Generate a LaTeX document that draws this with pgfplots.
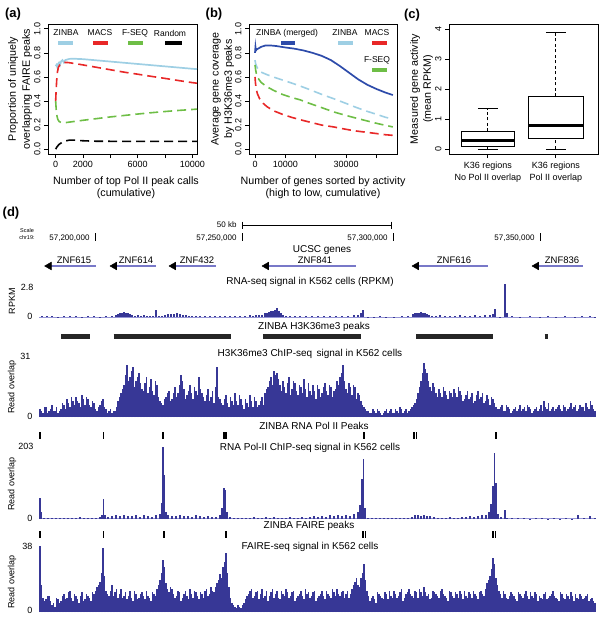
\documentclass[border=0pt]{standalone}
\usepackage{pgfplots}
\pgfplotsset{compat=1.18}
\usepgfplotslibrary{statistics}
\usepackage{fontspec}
\setmainfont{Liberation Sans}
\definecolor{zlb}{RGB}{158,207,228}
\definecolor{zred}{RGB}{232,40,40}
\definecolor{zgreen}{RGB}{110,190,70}
\definecolor{zdb}{RGB}{45,75,170}
\definecolor{trk}{RGB}{55,55,150}
\definecolor{trkl}{RGB}{150,150,215}
\definecolor{gene}{RGB}{120,120,200}
\begin{document}
\begin{tikzpicture}
\path[use as bounding box] (0pt,0pt) rectangle (600pt,-618pt);
\pgfplotsset{
  rstyle/.style={scale only axis, tick align=outside, major tick length=4pt, tick pos=left,
    axis line style={line width=0.7pt}, every tick/.style={black,line width=0.7pt},
    /pgf/number format/assume math mode=true,
    ticklabel style={font=\fontsize{9}{10}\selectfont},
    yticklabel style={rotate=90, anchor=south},
    scaled x ticks=false, clip=true},
  trkstyle/.style={scale only axis, hide axis, xmin=39, xmax=596, ymin=0, width=557pt, clip=true},
}
\def\lab{\fontsize{10.7}{12}\selectfont}
\def\tit{\fontsize{10}{11}\selectfont}
% ---------------- (a)
\begin{axis}[rstyle, at={(48pt,-154pt)}, anchor=south west, width=149pt, height=130pt,
  xmin=-560, xmax=10340, ymin=-0.04, ymax=1.04,
  xtick={0,2000,4000,6000,8000,10000}, xticklabels={0,2000,,6000,,10000},
  ytick={0,0.2,0.4,0.6,0.8,1.0}, yticklabels={0.0,0.2,0.4,0.6,0.8,1.0}]
\addplot[zlb, line width=1.7pt] coordinates {(0,0.69)(60,0.70)(120,0.68)(180,0.71)(250,0.72)(320,0.70)(400,0.73)(500,0.74)(600,0.72)(700,0.74)(850,0.745)(1000,0.75)(1300,0.752)(1600,0.75)(2000,0.748)(3000,0.738)(4000,0.728)(5000,0.718)(6000,0.708)(7000,0.698)(8000,0.688)(9000,0.678)(10000,0.668)(10340,0.665)};
\addplot[zred, line width=1.6pt, dash pattern=on 9pt off 5pt] coordinates {(0,0.40)(40,0.50)(80,0.58)(130,0.64)(200,0.68)(300,0.70)(450,0.715)(650,0.72)(900,0.72)(1200,0.715)(2000,0.70)(3000,0.68)(4000,0.66)(5000,0.64)(6000,0.623)(7000,0.605)(8000,0.588)(9000,0.57)(10000,0.553)(10340,0.548)};
\addplot[zgreen, line width=1.6pt, dash pattern=on 9pt off 5pt] coordinates {(0,0.40)(40,0.33)(90,0.28)(150,0.25)(250,0.23)(400,0.222)(600,0.218)(800,0.222)(1200,0.228)(2000,0.24)(3000,0.254)(4000,0.268)(5000,0.28)(6000,0.292)(7000,0.303)(8000,0.313)(9000,0.322)(10000,0.33)(10340,0.333)};
\addplot[black, line width=1.6pt, dash pattern=on 9pt off 5pt] coordinates {(0,0.0)(100,0.02)(250,0.04)(450,0.055)(700,0.068)(1000,0.075)(1400,0.075)(2000,0.07)(3000,0.066)(5000,0.065)(7000,0.065)(10340,0.065)};
\end{axis}
% ---------------- (b)
\begin{axis}[rstyle, at={(249pt,-154pt)}, anchor=south west, width=148pt, height=130pt,
  xmin=-1980, xmax=46770, ymin=-0.04, ymax=1.04,
  xtick={0,10000,20000,30000,40000}, xticklabels={0,10000,,30000,},
  ytick={0,0.2,0.4,0.6,0.8,1.0}, yticklabels={0.0,0.2,0.4,0.6,0.8,1.0}]
\addplot[zdb, line width=1.7pt] coordinates {(0,0.80)(150,0.85)(300,0.82)(600,0.83)(1000,0.835)(2000,0.85)(3500,0.862)(5000,0.862)(7000,0.857)(10000,0.845)(13000,0.835)(16000,0.82)(19000,0.80)(22000,0.775)(25000,0.74)(28000,0.69)(31000,0.635)(34000,0.58)(37000,0.535)(40000,0.50)(43000,0.47)(45400,0.45)};
\addplot[zlb, line width=1.6pt, dash pattern=on 9pt off 5pt] coordinates {(0,0.74)(200,0.71)(500,0.69)(1000,0.665)(2000,0.64)(3850,0.62)(6000,0.60)(9000,0.575)(12000,0.55)(14850,0.525)(18000,0.495)(22000,0.455)(25850,0.42)(30000,0.38)(33000,0.35)(36860,0.315)(40000,0.29)(43000,0.265)(45400,0.25)};
\addplot[zgreen, line width=1.6pt, dash pattern=on 9pt off 5pt] coordinates {(0,0.70)(200,0.66)(500,0.62)(1000,0.59)(2000,0.555)(3850,0.52)(6000,0.49)(9000,0.455)(12000,0.43)(14850,0.41)(18000,0.38)(22000,0.345)(25850,0.31)(30000,0.28)(33000,0.26)(36860,0.235)(40000,0.215)(43000,0.198)(45400,0.185)};
\addplot[zred, line width=1.6pt, dash pattern=on 9pt off 5pt] coordinates {(0,0.60)(150,0.55)(400,0.50)(800,0.46)(1500,0.42)(2500,0.385)(3850,0.355)(6000,0.32)(9000,0.29)(12000,0.265)(14850,0.245)(18000,0.225)(22000,0.20)(25850,0.185)(30000,0.165)(33000,0.152)(36860,0.14)(40000,0.13)(43000,0.12)(45400,0.115)};
\end{axis}
% ---------------- (c)
\begin{axis}[rstyle, at={(449pt,-154pt)}, anchor=south west, width=149pt, height=130pt,
  xmin=0.43, xmax=2.62, ymin=-0.167, ymax=4.167,
  xtick={1,2}, xticklabels={{K36 regions\\No Pol II overlap},{K36 regions\\Pol II overlap}},
  xticklabel style={align=center, font=\fontsize{9}{12}\selectfont},
  ytick={0,1,2,3,4}, boxplot/draw direction=y]
\addplot[black, line width=0.7pt, dash pattern=on 3pt off 2.5pt] coordinates {(1,0)(1,0.1)};
\addplot[black, line width=0.7pt, dash pattern=on 3pt off 2.5pt] coordinates {(1,0.59)(1,1.34)};
\addplot[black, line width=0.7pt] coordinates {(0.855,0)(1.145,0)};
\addplot[black, line width=0.7pt] coordinates {(0.855,1.34)(1.145,1.34)};
\addplot[black, line width=0.7pt, dash pattern=on 3pt off 2.5pt] coordinates {(2,0)(2,0.37)};
\addplot[black, line width=0.7pt, dash pattern=on 3pt off 2.5pt] coordinates {(2,1.75)(2,3.88)};
\addplot[black, line width=0.7pt] coordinates {(1.855,0)(2.145,0)};
\addplot[black, line width=0.7pt] coordinates {(1.855,3.88)(2.145,3.88)};
\addplot[black, line width=0.7pt, fill=white, boxplot prepared={draw position=1, lower whisker=0.1, lower quartile=0.1, median=0.27, upper quartile=0.59, upper whisker=0.59, box extend=0.78, whisker extend=0, every median/.style={line width=2.8pt}}] coordinates {};
\addplot[black, line width=0.7pt, fill=white, boxplot prepared={draw position=2, lower whisker=0.37, lower quartile=0.37, median=0.78, upper quartile=1.75, upper whisker=1.75, box extend=0.8, whisker extend=0, every median/.style={line width=2.8pt}}] coordinates {};
\end{axis}
% ---------------- tracks
\begin{axis}[trkstyle, at={(39pt,-317pt)}, anchor=south west, height=33pt, ymax=2.8]
\addplot[trkl, line width=0.6pt] coordinates {(39,0.01)(596,0.01)};
\addplot[trk, ycomb, line width=1.2pt] coordinates {(42,0.06)(47,0.05)(52,0.08)(58,0.04)(64,0.07)(70,0.05)(76,0.06)(82,0.03)(88,0.07)(94,0.05)(100,0.04)(106,0.06)(112,0.05)
(116,0.15)(118,0.25)(120,0.32)(122,0.38)(124,0.42)(126,0.35)(128,0.30)(130,0.22)(132,0.15)(135,0.12)(138,0.18)(141,0.10)(144,0.14)(147,0.08)(150,0.12)(153,0.09)(156,0.6)(159,0.1)
(162,0.08)(165,0.18)(168,0.22)(171,0.28)(174,0.25)(177,0.3)(180,0.22)(183,0.18)(186,0.15)(189,0.12)(192,0.08)(196,0.1)(200,0.06)(205,0.09)(210,0.05)(215,0.08)(220,0.06)(225,0.1)(230,0.07)(235,0.09)(240,0.12)(245,0.1)(250,0.15)(253,0.12)(256,0.18)(259,0.2)(262,0.16)
(265,0.3)(267,0.38)(269,0.45)(271,0.5)(273,0.55)(275,0.62)(277,0.76)(279,0.5)(281,0.35)(283,0.2)(286,0.12)(290,0.08)(295,0.1)(300,0.06)(306,0.12)(312,0.05)(318,0.09)(324,0.06)(330,0.1)(336,0.08)(342,0.12)(348,0.09)(354,0.15)(358,0.2)(361,0.3)(363,0.62)
(368,0.04)(374,0.03)(380,0.05)(386,0.03)(394,0.04)(402,0.06)(408,0.05)
(413,0.22)(415,0.3)(417,0.35)(419,0.38)(421,0.4)(423,0.36)(425,0.3)(427,0.22)(429,0.15)(432,0.12)(436,0.1)(440,0.14)(445,0.08)(450,0.12)(455,0.1)(460,0.14)(465,0.09)(470,0.12)(475,0.15)(480,0.1)(485,0.14)(490,0.18)(493,0.25)(495,0.67)
(500,0.04)(505,2.8)(507,0.35)(512,0.05)(520,0.04)(530,0.06)(540,0.03)(548,0.05)(556,0.04)(565,0.06)(575,0.04)(582,0.07)(590,0.05)(595,0.04)};
\end{axis}
\begin{axis}[trkstyle, at={(39pt,-417pt)}, anchor=south west, height=62pt, ymax=31]
\addplot[trk, ycomb, line width=1.6pt] coordinates {(40,4)(43,2)(46,5)(49,3)(52,6)(55,3)(58,2)(61,4)
(64,6)(67,9)(70,5)(73,8)(76,10)(79,7)(82,11)(85,6)(88,9)(91,5)(94,7)(97,3)(100,6)(103,9)(106,4)(109,3)(112,2)(115,3)
(118,8)(121,12)(124,16)(127,26)(130,20)(133,25)(136,18)(139,22)(142,14)(145,17)(148,12)(151,19)(154,11)(157,16)(160,8)(163,6)
(166,10)(169,13)(172,9)(175,15)(178,12)(181,21)(184,14)(187,11)(190,16)(193,9)(196,13)(199,20)(202,12)(205,8)(208,14)(211,10)(214,7)(217,25)
(220,9)(223,6)(226,11)(229,5)(232,8)(235,12)(238,6)(241,9)(244,4)(247,7)(250,11)(253,5)(256,8)(259,6)(262,10)(265,12)
(268,15)(271,20)(274,23)(277,22)(280,16)(283,18)(286,12)(289,20)(292,14)(295,17)(298,11)(301,15)(304,19)(307,10)(310,13)(313,16)(316,9)(319,14)(322,12)(325,17)(328,11)(331,15)(334,13)(337,18)(340,20)(343,26)(346,14)(349,17)(352,11)(355,15)(358,12)(361,8)(364,5)
(367,3)(370,2)(373,4)(376,2)(379,3)(382,1)(385,3)(388,2)(391,4)(394,2)(397,3)(400,5)(403,2)(406,4)(409,3)(412,5)(415,7)
(418,12)(421,18)(424,27)(427,22)(430,15)(433,17)(436,12)(439,14)(442,10)(445,13)(448,9)(451,12)(454,14)(457,10)(460,13)(463,8)(466,11)(469,9)(472,12)(475,8)(478,13)(481,10)(484,7)(487,11)(490,6)(493,9)(496,5)
(499,4)(502,6)(505,3)(508,5)(511,2)(514,4)(517,3)(520,6)(523,4)(526,3)(529,5)(532,2)(535,4)(538,3)(541,6)(544,8)(547,4)(550,3)(553,5)(556,4)(559,6)(562,3)(565,5)(568,4)(571,7)(574,5)(577,3)(580,6)(583,5)(586,7)(589,4)(592,6)(595,3)};
\addplot[trk, ycomb, line width=1.6pt] coordinates {(41.5,3)(44.5,5)(47.5,2)(50.5,4)(53.5,3)(56.5,5)(59.5,3)(62.5,7)
(65.5,4)(68.5,7)(71.5,10)(74.5,6)(77.5,8)(80.5,5)(83.5,9)(86.5,10)(89.5,6)(92.5,8)(95.5,4)(98.5,5)(101.5,8)(104.5,5)(107.5,2)(110.5,4)(113.5,3)(116.5,5)
(119.5,10)(122.5,14)(125.5,21)(128.5,18)(131.5,23)(134.5,15)(137.5,20)(140.5,17)(143.5,13)(146.5,20)(149.5,15)(152.5,13)(155.5,18)(158.5,10)(161.5,7)(164.5,9)
(167.5,12)(170.5,8)(173.5,12)(176.5,10)(179.5,16)(182.5,18)(185.5,9)(188.5,13)(191.5,12)(194.5,15)(197.5,11)(200.5,14)(203.5,10)(206.5,11)(209.5,8)(212.5,13)(215.5,15)(218.5,10)
(221.5,7)(224.5,9)(227.5,7)(230.5,10)(233.5,6)(236.5,8)(239.5,11)(242.5,6)(245.5,9)(248.5,5)(251.5,8)(254.5,10)(257.5,5)(260.5,8)(263.5,6)(266.5,14)
(269.5,18)(272.5,16)(275.5,21)(278.5,19)(281.5,13)(284.5,15)(287.5,17)(290.5,11)(293.5,18)(296.5,13)(299.5,16)(302.5,12)(305.5,14)(308.5,17)(311.5,11)(314.5,13)(317.5,16)(320.5,10)(323.5,15)(326.5,13)(329.5,16)(332.5,10)(335.5,14)(338.5,16)(341.5,22)(344.5,18)(347.5,12)(350.5,15)(353.5,16)(356.5,9)(359.5,11)(362.5,6)
(365.5,4)(368.5,3)(371.5,2)(374.5,3)(377.5,4)(380.5,2)(383.5,2)(386.5,4)(389.5,3)(392.5,2)(395.5,4)(398.5,2)(401.5,4)(404.5,3)(407.5,2)(410.5,4)(413.5,6)(416.5,9)
(419.5,15)(422.5,22)(425.5,24)(428.5,18)(431.5,13)(434.5,15)(437.5,10)(440.5,12)(443.5,15)(446.5,11)(449.5,13)(452.5,10)(455.5,12)(458.5,15)(461.5,11)(464.5,9)(467.5,13)(470.5,10)(473.5,7)(476.5,11)(479.5,9)(482.5,12)(485.5,8)(488.5,9)(491.5,10)(494.5,7)(497.5,4)
(500.5,5)(503.5,3)(506.5,6)(509.5,4)(512.5,3)(515.5,5)(518.5,4)(521.5,3)(524.5,5)(527.5,6)(530.5,4)(533.5,3)(536.5,5)(539.5,4)(542.5,3)(545.5,5)(548.5,7)(551.5,4)(554.5,3)(557.5,5)(560.5,4)(563.5,6)(566.5,3)(569.5,5)(572.5,4)(575.5,6)(578.5,4)(581.5,5)(584.5,3)(587.5,5)(590.5,8)(593.5,4)};
\end{axis}
\begin{axis}[trkstyle, at={(39pt,-519pt)}, anchor=south west, height=74pt, ymax=203]
\addplot[trkl, line width=0.8pt] coordinates {(39,0.8)(596,0.8)};
\addplot[trk, ycomb, line width=1.2pt] coordinates {(39,22)(40,57)(41,18)(44,4)(48,3)(52,2)(56,3)(60,2)(64,4)(68,2)(72,3)(76,2)(80,5)(84,3)(88,4)(92,3)(96,4)(100,6)(102,12)(103.5,55)(105,10)(108,6)(112,8)(116,10)(120,9)(124,12)(128,8)(132,7)(136,10)(140,6)(144,12)(148,8)(152,6)(156,10)(160,14)(162,45)(163,197)(164.5,120)(166,20)(168,10)(172,9)(176,8)(180,11)(184,7)(188,9)(192,6)(196,10)(200,8)(204,5)(208,7)(212,5)(216,6)(220,10)(222,30)(224,86)(225.5,80)(227,20)(230,5)(234,3)(238,2)(242,4)(246,2)(250,3)(254,5)(258,3)(262,4)(266,6)(270,4)(274,5)(278,3)(282,4)(286,3)(290,5)(294,3)(298,4)(302,6)(306,4)(310,5)(314,7)(318,5)(322,8)(326,6)(330,10)(334,8)(338,12)(342,9)(346,11)(350,8)(354,14)(358,20)(360,38)(362,110)(363.5,164)(365,30)(368,4)(372,2)(376,3)(380,2)(384,4)(388,2)(392,3)(396,2)(400,3)(404,2)(408,4)(412,6)(415,10)(418,12)(421,9)(424,11)(427,8)(430,7)(434,5)(438,4)(442,3)(446,4)(450,5)(454,3)(458,4)(462,5)(466,6)(470,7)(474,5)(478,8)(482,10)(486,12)(489,18)(491,40)(493,90)(494.5,182)(496,100)(498,15)(501,5)(505,24)(507,4)(512,2)(518,3)(524,2)(530,1)(536,2)(542,3)(548,1)(554,2)(560,1)(566,2)(572,1)(578,10)(584,2)(590,8)(595,2)};
\end{axis}
\begin{axis}[trkstyle, at={(39pt,-612pt)}, anchor=south west, height=68pt, ymax=38]
\addplot[trk, ycomb, line width=1.6pt] coordinates {(40,37)(43,8)(46,7)(49,9)(52,4)(55,3)(58,7)(61,6)(64,10)(67,8)(70,12)(73,6)(76,9)(79,5)(82,11)(85,7)(88,9)(91,6)(94,10)(97,14)(100,17)(103,36)(106,12)(109,9)(112,15)(115,11)(118,8)(121,13)(124,9)(127,7)(130,12)(133,6)(136,10)(139,8)(142,11)(145,7)(148,9)(151,6)(154,10)(157,13)(160,18)(163,29)(166,16)(169,11)(172,13)(175,8)(178,12)(181,6)(184,10)(187,9)(190,13)(193,8)(196,11)(199,7)(202,10)(205,12)(208,9)(211,14)(214,11)(217,16)(220,21)(223,25)(226,33)(229,14)(232,5)(235,3)(238,4)(241,2)(244,5)(247,9)(250,12)(253,8)(256,11)(259,7)(262,13)(265,9)(268,6)(271,11)(274,8)(277,12)(280,7)(283,10)(286,13)(289,8)(292,11)(295,6)(298,9)(301,12)(304,7)(307,10)(310,8)(313,11)(316,6)(319,9)(322,12)(325,7)(328,10)(331,8)(334,11)(337,13)(340,9)(343,12)(346,10)(349,8)(352,13)(355,17)(358,15)(361,19)(364,27)(367,12)(370,6)(373,9)(376,5)(379,10)(382,8)(385,11)(388,7)(391,9)(394,12)(397,8)(400,11)(403,6)(406,10)(409,13)(412,9)(415,12)(418,8)(421,11)(424,14)(427,9)(430,7)(433,12)(436,10)(439,8)(442,13)(445,9)(448,6)(451,11)(454,8)(457,10)(460,12)(463,7)(466,9)(469,11)(472,8)(475,10)(478,7)(481,12)(484,9)(487,16)(490,20)(493,30)(496,19)(499,12)(502,8)(505,10)(508,7)(511,11)(514,9)(517,6)(520,10)(523,8)(526,12)(529,7)(532,9)(535,11)(538,6)(541,8)(544,10)(547,7)(550,9)(553,12)(556,8)(559,6)(562,10)(565,7)(568,9)(571,11)(574,6)(577,8)(580,10)(583,7)(586,9)(589,6)(592,8)(595,5)};
\addplot[trk, ycomb, line width=1.6pt] coordinates {(41.5,15)(44.5,6)(47.5,9)(50.5,6)(53.5,5)(56.5,8)(59.5,5)(62.5,9)(65.5,7)(68.5,11)(71.5,8)(74.5,10)(77.5,7)(80.5,9)(83.5,6)(86.5,10)(89.5,8)(92.5,11)(95.5,12)(98.5,15)(101.5,22)(104.5,20)(107.5,10)(110.5,12)(113.5,9)(116.5,13)(119.5,10)(122.5,8)(125.5,11)(128.5,9)(131.5,8)(134.5,12)(137.5,7)(140.5,10)(143.5,9)(146.5,12)(149.5,8)(152.5,11)(155.5,9)(158.5,15)(161.5,22)(164.5,25)(167.5,13)(170.5,14)(173.5,10)(176.5,9)(179.5,11)(182.5,8)(185.5,12)(188.5,7)(191.5,10)(194.5,12)(197.5,9)(200.5,11)(203.5,8)(206.5,13)(209.5,10)(212.5,12)(215.5,14)(218.5,18)(221.5,19)(224.5,28)(227.5,22)(230.5,8)(233.5,4)(236.5,2)(239.5,3)(242.5,4)(245.5,7)(248.5,10)(251.5,13)(254.5,9)(257.5,12)(260.5,10)(263.5,8)(266.5,12)(269.5,9)(272.5,13)(275.5,10)(278.5,8)(281.5,12)(284.5,9)(287.5,11)(290.5,9)(293.5,12)(296.5,8)(299.5,10)(302.5,9)(305.5,13)(308.5,11)(311.5,9)(314.5,12)(317.5,8)(320.5,10)(323.5,9)(326.5,12)(329.5,9)(332.5,13)(335.5,9)(338.5,10)(341.5,11)(344.5,8)(347.5,12)(350.5,10)(353.5,15)(356.5,19)(359.5,14)(362.5,22)(365.5,18)(368.5,9)(371.5,8)(374.5,7)(377.5,11)(380.5,9)(383.5,7)(386.5,10)(389.5,12)(392.5,8)(395.5,10)(398.5,9)(401.5,13)(404.5,8)(407.5,11)(410.5,10)(413.5,8)(416.5,11)(419.5,13)(422.5,9)(425.5,11)(428.5,10)(431.5,8)(434.5,11)(437.5,9)(440.5,12)(443.5,10)(446.5,8)(449.5,12)(452.5,9)(455.5,11)(458.5,8)(461.5,10)(464.5,12)(467.5,8)(470.5,10)(473.5,12)(476.5,9)(479.5,11)(482.5,10)(485.5,13)(488.5,18)(491.5,24)(494.5,27)(497.5,15)(500.5,10)(503.5,12)(506.5,8)(509.5,9)(512.5,10)(515.5,7)(518.5,11)(521.5,9)(524.5,10)(527.5,9)(530.5,11)(533.5,8)(536.5,10)(539.5,9)(542.5,7)(545.5,11)(548.5,8)(551.5,10)(554.5,9)(557.5,7)(560.5,11)(563.5,8)(566.5,10)(569.5,7)(572.5,9)(575.5,10)(578.5,7)(581.5,9)(584.5,8)(587.5,10)(590.5,7)(593.5,6)};
\end{axis}
% ---------------- pixel overlay: legends, ruler, genes, peak calls
\begin{axis}[scale only axis, hide axis, at={(0pt,-618pt)}, anchor=south west, width=600pt, height=618pt,
  xmin=0, xmax=600, ymin=-618, ymax=0, clip=false, unbounded coords=jump]
\addplot[zlb, line width=4pt] coordinates {(58,-43)(73,-43)};
\addplot[zred, line width=4pt] coordinates {(93,-43)(108,-43)};
\addplot[zgreen, line width=4pt] coordinates {(128,-43)(143,-43)};
\addplot[black, line width=4pt] coordinates {(165,-43)(182,-43)};
\addplot[zdb, line width=4pt] coordinates {(281,-43)(295,-43)};
\addplot[zlb, line width=4pt] coordinates {(338,-43)(353,-43)};
\addplot[zred, line width=4pt] coordinates {(372,-43)(387,-43)};
\addplot[zgreen, line width=4pt] coordinates {(372,-70)(387,-70)};
% ruler
\addplot[black, line width=0.6pt] coordinates {(242,-225)(391,-225)};
\addplot[black, line width=0.6pt] coordinates {(242,-221.5)(242,-228.5) (nan,nan) (391,-221.5)(391,-228.5)};
\addplot[black, line width=0.7pt] coordinates {(95,-233)(95,-241) (nan,nan) (242,-233)(242,-241) (nan,nan) (393,-233)(393,-241) (nan,nan) (540,-233)(540,-241)};
% genes
\addplot[gene, line width=2pt] coordinates {(50,-266)(96,-266) (nan,nan) (115,-266)(156,-266) (nan,nan) (174,-266)(216,-266) (nan,nan) (267,-266)(356,-266) (nan,nan) (417,-266)(488,-266) (nan,nan) (537,-266)(583,-266)};
\addplot[only marks, mark=triangle*, mark size=4.5pt, mark options={rotate=90, fill=black, draw=black}] coordinates {(49.1,-266)(114.5,-266)(173.5,-266)(266.5,-266)(416.5,-266)(536.5,-266)};
% H3K36me3 peaks
\addplot[black!85, line width=5pt] coordinates {(61,-336)(90,-336) (nan,nan) (113.6,-336)(230.6,-336) (nan,nan) (262.8,-336)(361,-336) (nan,nan) (416,-336)(493,-336) (nan,nan) (544.6,-336)(547.7,-336)};
% Pol II peaks
\addplot[black, line width=1.1pt] coordinates {(40,-432)(40,-439) (nan,nan) (103.5,-432)(103.5,-439) (nan,nan) (163,-432)(163,-439) (nan,nan) (224,-432)(224,-439) (nan,nan) (226,-432)(226,-439) (nan,nan) (364,-432)(364,-439) (nan,nan) (414,-432)(414,-439) (nan,nan) (416.5,-432)(416.5,-439) (nan,nan) (496,-432)(496,-439)};
% FAIRE peaks
\addplot[black, line width=1.1pt] coordinates {(40,-531)(40,-538) (nan,nan) (103.5,-531)(103.5,-538) (nan,nan) (164,-531)(164,-538) (nan,nan) (226,-531)(226,-538) (nan,nan) (363,-531)(363,-538) (nan,nan) (365.5,-531)(365.5,-538) (nan,nan) (493,-531)(493,-538) (nan,nan) (495.5,-531)(495.5,-538)};
\end{axis}
% ---------------- text
\node[font=\bfseries\fontsize{13}{14}\selectfont] at (13pt,-14pt) {(a)};
\node[font=\bfseries\fontsize{13}{14}\selectfont] at (214pt,-14pt) {(b)};
\node[font=\bfseries\fontsize{13}{14}\selectfont] at (412pt,-15pt) {(c)};
\node[font=\bfseries\fontsize{13}{14}\selectfont] at (11pt,-213pt) {(d)};
\node[rotate=90, font=\lab] at (13pt,-89pt) {Proportion of uniquely};
\node[rotate=90, font=\lab] at (27pt,-89pt) {overlapping FAIRE peaks};
\node[font=\lab] at (126pt,-182pt) {Number of top Pol II peak calls};
\node[font=\lab] at (126pt,-194pt) {(cumulative)};
\node[rotate=90, font=\lab] at (216pt,-89pt) {Average gene coverage};
\node[rotate=90, font=\lab] at (229pt,-89pt) {by H3K36me3 peaks};
\node[font=\lab] at (323pt,-182pt) {Number of genes sorted by activity};
\node[font=\lab] at (323pt,-194pt) {(high to low, cumulative)};
\node[rotate=90, font=\lab] at (415pt,-89pt) {Measured gene activity};
\node[rotate=90, font=\lab] at (428pt,-89pt) {(mean RPKM)};
\begin{scope}[every node/.style={font=\fontsize{8.5}{9}\selectfont}]
\node at (66pt,-33pt) {ZINBA};
\node at (100pt,-33pt) {MACS};
\node at (135pt,-33pt) {F-SEQ};
\node at (170pt,-33pt) {Random};
\node at (287pt,-33pt) {ZINBA (merged)};
\node at (345pt,-33pt) {ZINBA};
\node at (377pt,-33pt) {MACS};
\node at (377pt,-60pt) {F-SEQ};
\end{scope}
% (d) text
\node[anchor=east, font=\fontsize{8}{9}\selectfont] at (240pt,-225pt) {50 kb};
\node[font=\fontsize{5.5}{6}\selectfont] at (27pt,-231pt) {Scale};
\node[font=\fontsize{5.5}{6}\selectfont] at (27pt,-238pt) {chr19:};
\node[anchor=east, font=\fontsize{8}{9}\selectfont] at (93pt,-238pt) {57,200,000};
\node[anchor=east, font=\fontsize{8}{9}\selectfont] at (240pt,-238pt) {57,250,000};
\node[anchor=east, font=\fontsize{8}{9}\selectfont] at (391pt,-238pt) {57,300,000};
\node[anchor=east, font=\fontsize{8}{9}\selectfont] at (538pt,-238pt) {57,350,000};
\node[font=\tit] at (322pt,-250pt) {UCSC genes};
\begin{scope}[every node/.style={font=\fontsize{9.5}{10}\selectfont}]
\node at (74pt,-260pt) {ZNF615};
\node at (136pt,-260pt) {ZNF614};
\node at (197pt,-260pt) {ZNF432};
\node at (315pt,-260pt) {ZNF841};
\node at (454pt,-260pt) {ZNF616};
\node at (562pt,-260pt) {ZNF836};
\end{scope}
\node[font=\tit] at (310pt,-282pt) {RNA-seq signal in K562 cells (RPKM)};
\node[font=\tit] at (314pt,-327pt) {ZINBA H3K36me3 peaks};
\node[font=\tit] at (310pt,-354pt) {H3K36me3 ChIP-seq\, signal in K562 cells};
\node[font=\tit] at (314pt,-426pt) {ZINBA RNA Pol II Peaks};
\node[font=\tit] at (310pt,-448pt) {RNA Pol-II ChIP-seq signal in K562 cells};
\node[font=\tit] at (309pt,-526pt) {ZINBA FAIRE peaks};
\node[font=\tit] at (310pt,-547pt) {FAIRE-seq signal in K562 cells};
\begin{scope}[every node/.style={font=\fontsize{9}{10}\selectfont}]
\node[anchor=east] at (37pt,-287pt) {2.8};
\node[anchor=east] at (36pt,-316pt) {0};
\node[rotate=90] at (12pt,-301pt) {RPKM};
\node[anchor=east] at (34pt,-356pt) {31};
\node[anchor=east] at (36pt,-416pt) {0};
\node[rotate=90] at (12pt,-387pt) {Read overlap};
\node[anchor=east] at (37pt,-446pt) {203};
\node[anchor=east] at (36pt,-518pt) {0};
\node[rotate=90] at (12pt,-484pt) {Read overlap};
\node[anchor=east] at (36pt,-546pt) {38};
\node[anchor=east] at (36pt,-610pt) {0};
\node[rotate=90] at (12pt,-582pt) {Read overlap};
\end{scope}
\end{tikzpicture}
\end{document}
